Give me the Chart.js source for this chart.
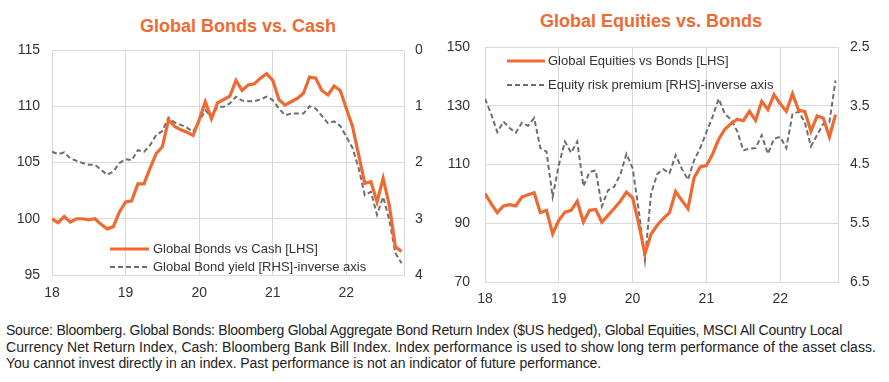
<!DOCTYPE html>
<html>
<head>
<meta charset="utf-8">
<script src="https://cdn.jsdelivr.net/npm/chart.js@4.4.1/dist/chart.umd.min.js"></script>
<style>
  html, body { margin: 0; padding: 0; background: #fff; }
  body { width: 889px; height: 382px; position: relative; overflow: hidden; font-family: "Liberation Sans", Arial, sans-serif; }
  canvas { position: absolute; top: 0; }
  #c1 { left: 0; }
  #c2 { left: 445px; }
  .title { position: absolute; width: 320px; text-align: center; font-weight: bold; font-size: 18px; line-height: 18px; color: #ee6a32; }
  .src { position: absolute; left: 6px; font-size: 14px; line-height: 14.5px; color: #222; white-space: nowrap; }
</style>
</head>
<body>
<div class="title" style="left:78px; top:17px;">Global Bonds vs. Cash</div>
<div class="title" style="left:491px; top:12px;">Global Equities vs. Bonds</div>
<canvas id="c1" width="445" height="310"></canvas>
<canvas id="c2" width="444" height="310"></canvas>
<div class="src" id="s1" data-end="842" style="top:323px;">Source: Bloomberg. Global Bonds: Bloomberg Global Aggregate Bond Return Index ($US hedged), Global Equities, MSCI All Country Local</div>
<div class="src" id="s2" data-end="876" style="top:339.5px;">Currency Net Return Index,  Cash: Bloomberg Bank Bill Index.  Index performance is used to show long term performance of the asset class.</div>
<div class="src" id="s3" data-end="601" style="top:356px;">You cannot invest directly in an index.  Past performance is not an indicator of future performance.</div>
<script>
// monthly, Jan 2018 .. Oct 2022
const yearTicks = [0, 12, 24, 36, 48]
const yearLabels = ['18', '19', '20', '21', '22']

const bondsVsCash = [100.0, 99.65, 100.2, 99.7, 100.0, 100.0, 99.9, 100.0, 99.5, 99.1, 99.3, 100.6,
  101.5, 101.6, 103.1, 103.1, 104.5, 105.8, 106.4, 108.8, 108.2, 107.9, 107.7, 107.4,
  108.8, 110.4, 108.9, 110.3, 110.6, 110.9, 112.3, 111.4, 111.9, 112.0, 112.5, 112.9,
  112.3, 110.6, 110.1, 110.4, 110.7, 111.15, 112.6, 112.5, 111.4, 111.0, 111.8, 111.4,
  109.8, 108.2, 105.7, 103.15, 103.3, 101.5, 103.6, 101.2, 97.5, 97.1]

const bondYield = [1.81, 1.85, 1.82, 1.93, 1.97, 2.01, 2.04, 2.04, 2.13, 2.22, 2.16, 2.01,
  1.94, 1.96, 1.78, 1.81, 1.69, 1.51, 1.44, 1.20, 1.29, 1.33, 1.38, 1.45,
  1.27, 1.07, 1.19, 1.01, 1.01, 0.95, 0.83, 0.90, 0.91, 0.91, 0.88, 0.83,
  0.89, 1.04, 1.16, 1.13, 1.13, 1.13, 1.00, 1.04, 1.17, 1.30, 1.27, 1.35,
  1.54, 1.74, 2.10, 2.58, 2.52, 2.93, 2.61, 3.02, 3.61, 3.79]

const equitiesVsBonds = [100.1, 96.7, 93.6, 95.9, 96.3, 95.9, 98.9, 99.7, 100.4, 93.6, 94.4, 86.4,
  91.0, 93.8, 94.4, 97.5, 90.4, 94.4, 94.7, 90.4, 92.7, 95.0, 97.5, 100.6,
  98.7, 89.8, 79.6, 86.3, 89.3, 91.7, 93.6, 100.8, 97.8, 95.0, 105.5, 109.2,
  109.6, 113.5, 118.6, 122.0, 123.9, 125.4, 124.9, 128.1, 125.0, 131.5, 128.7, 133.8,
  130.7, 128.1, 134.1, 128.4, 128.1, 121.3, 126.5, 125.8, 119.4, 127.0]

const riskPremium = [3.38, 3.64, 3.95, 3.77, 3.88, 3.96, 3.79, 3.84, 3.71, 4.22, 4.28, 5.05,
  4.51, 4.11, 4.30, 4.11, 4.87, 4.63, 4.60, 5.21, 4.94, 4.88, 4.67, 4.32,
  4.56, 5.28, 6.13, 5.00, 4.66, 4.58, 4.65, 4.34, 4.57, 4.76, 4.43, 4.22,
  3.95, 3.69, 3.38, 3.64, 3.73, 3.93, 4.26, 4.23, 4.22, 4.00, 4.32, 4.06,
  4.03, 4.22, 3.64, 3.60, 3.78, 4.19, 4.00, 3.81, 3.78, 3.07]

const ORANGE = '#ee6a32'
const GREY = '#6e6e6e'
const GRID = '#d9d9d9'
const TXT = '#333333'
const FONT = "'Liberation Sans', Arial, sans-serif"

function pts(arr) { return arr.map((v, i) => ({ x: i, y: v })) }

// legend drawn inside the plot area
const innerLegend = {
  id: 'innerLegend',
  afterDraw(chart, args, opts) {
    const ctx = chart.ctx
    ctx.save()
    ctx.font = '13px ' + FONT
    ctx.fillStyle = TXT
    ctx.textBaseline = 'middle'
    chart.data.datasets.forEach((ds, i) => {
      const y = opts.y[i]
      ctx.beginPath()
      ctx.strokeStyle = ds.borderColor
      ctx.lineWidth = ds.borderWidth
      ctx.setLineDash(ds.borderDash || [])
      ctx.moveTo(opts.x0, y)
      ctx.lineTo(opts.x1, y)
      ctx.stroke()
      ctx.setLineDash([])
      ctx.fillText(ds.label, opts.tx, y)
    })
    ctx.restore()
  }
}

function makeChart(id, cfg) {
  return new Chart(document.getElementById(id), {
    type: 'line',
    data: {
      datasets: [
        { label: cfg.labels[0], data: pts(cfg.left), yAxisID: 'y', borderColor: ORANGE, borderWidth: 3.2,
          pointRadius: 0, tension: 0, order: 1 },
        { label: cfg.labels[1], data: pts(cfg.right), yAxisID: 'y2', borderColor: GREY, borderWidth: 2,
          borderDash: [5, 3], pointRadius: 0, tension: 0, order: 2 }
      ]
    },
    options: {
      responsive: false,
      animation: false,
      layout: { padding: { top: cfg.top, left: 0, right: 0, bottom: 0 } },
      plugins: {
        legend: { display: false },
        tooltip: { enabled: false },
        innerLegend: cfg.legend
      },
      scales: {
        x: {
          type: 'linear', min: 0, max: 57.4,
          afterBuildTicks: s => { s.ticks = yearTicks.map(v => ({ value: v })) },
          afterFit: s => { s.height = cfg.xh },
          ticks: { callback: (v) => yearLabels[yearTicks.indexOf(v)], color: TXT, font: { size: 14, family: FONT },
            padding: cfg.xpad, maxRotation: 0, autoSkip: false },
          grid: { color: GRID, drawTicks: false },
          border: { display: false }
        },
        y: {
          position: 'left', min: cfg.ymin, max: cfg.ymax,
          afterFit: s => { s.width = cfg.yw },
          ticks: { stepSize: cfg.ystep, color: TXT, font: { size: 14, family: FONT }, padding: cfg.ypad },
          grid: { color: GRID, drawTicks: false },
          border: { display: false }
        },
        y2: {
          position: 'right', min: cfg.rmin, max: cfg.rmax, reverse: true,
          afterFit: s => { s.width = cfg.rw },
          ticks: { stepSize: 1, color: TXT, font: { size: 14, family: FONT }, padding: cfg.rpad,
            callback: v => cfg.rfmt(v) },
          grid: { display: false, drawTicks: false },
          border: { display: true, color: GRID }
        }
      }
    },
    plugins: [innerLegend]
  })
}

makeChart('c1', {
  labels: ['Global Bonds vs Cash [LHS]', 'Global Bond yield [RHS]-inverse axis'],
  left: bondsVsCash, right: bondYield,
  top: 50, xh: 35, xpad: 10, yw: 52, ypad: 12, rw: 41, rpad: 11,
  ymin: 95, ymax: 115, ystep: 5, rmin: 0, rmax: 4, rfmt: v => String(v),
  legend: { x0: 110, x1: 149, tx: 153, y: [249, 267] }
})

makeChart('c2', {
  labels: ['Global Equities vs Bonds [LHS]', 'Equity risk premium [RHS]-inverse axis'],
  left: equitiesVsBonds, right: riskPremium,
  top: 47, xh: 28, xpad: 9, yw: 40, ypad: 15, rw: 51, rpad: 12,
  ymin: 70, ymax: 150, ystep: 20, rmin: 2.5, rmax: 6.5, rfmt: v => v.toFixed(1),
  legend: { x0: 62, x1: 100, tx: 103, y: [61, 85] }
})

// squeeze the source lines to the widths seen in the picture
document.querySelectorAll('.src').forEach(el => {
  const target = +el.dataset.end - 6
  const w = el.getBoundingClientRect().width
  const n = el.textContent.length
  el.style.letterSpacing = ((target - w) / n).toFixed(3) + 'px'
})
</script>
</body>
</html>
